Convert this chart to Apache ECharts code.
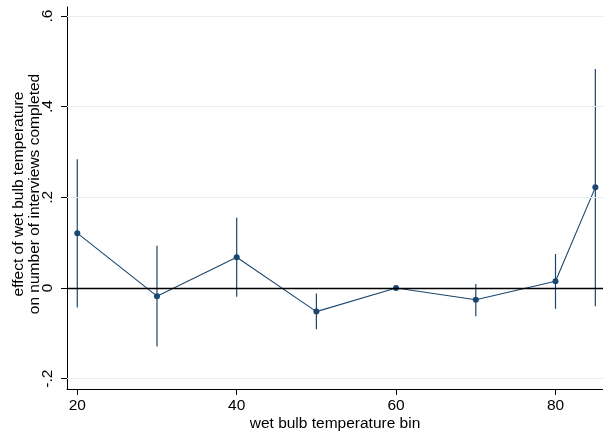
<!DOCTYPE html>
<html>
<head>
<meta charset="utf-8">
<script src="https://cdn.jsdelivr.net/npm/echarts@6/dist/echarts.min.js"></script>
<style>
html,body{margin:0;padding:0;background:#fff;}
#c{width:603px;height:431px;}
</style>
</head>
<body>
<div id="c"></div>
<script>
// Data
var bins = [20, 30, 40, 50, 60, 70, 80, 85];
var effect = [0.121, -0.018, 0.068, -0.052, 0.0, -0.026, 0.015, 0.222];
var ciLow = [-0.043, -0.129, -0.019, -0.091, null, -0.062, -0.046, -0.040];
var ciHigh = [0.284, 0.093, 0.155, -0.012, null, 0.009, 0.075, 0.483];
var xTicks = [20, 40, 60, 80];
var yTicks = [-0.2, 0, 0.2, 0.4, 0.6];
var xTitle = 'wet bulb temperature bin';
var yTitle = 'effect of wet bulb temperature\non number of interviews completed';

var navy = '#1a476f';
var font = 'Liberation Sans, Arial, sans-serif';
var fs = 15.5;

var pointData = bins.map(function (b, i) { return [b, effect[i]]; });
var ciData = [];
bins.forEach(function (b, i) {
  if (ciLow[i] !== null && ciHigh[i] !== null) ciData.push([b, ciLow[i], ciHigh[i]]);
});
var gridLines = yTicks.filter(function (v) { return v !== 0; }).map(function (v) { return { yAxis: v }; });

function yFmt(v) {
  if (Math.abs(v) < 1e-9) return '0';
  var s = String(Math.round(v * 10) / 10);
  return s.replace('0.', '.');
}

var chart = echarts.init(document.getElementById('c'), null, { renderer: 'canvas' });
chart.setOption({
  animation: false,
  backgroundColor: '#ffffff',
  grid: { left: 67, right: 0, top: 7, bottom: 42, containLabel: false, outerBoundsMode: 'none' },
  xAxis: {
    type: 'value',
    min: 18.71,
    max: 85.96,
    name: xTitle,
    nameLocation: 'middle',
    nameGap: 27,
    nameMoveOverlap: false,
    nameTextStyle: { fontFamily: font, fontSize: fs, color: '#000' },
    axisLine: { show: true, onZero: false, lineStyle: { color: '#000', width: 1 } },
    axisTick: { show: true, length: 6, customValues: xTicks, lineStyle: { color: '#000' } },
    axisLabel: { show: true, customValues: xTicks, margin: 9, fontFamily: font, fontSize: fs, color: '#000',
      formatter: function (v) { return String(v); } },
    splitLine: { show: false }
  },
  yAxis: {
    type: 'value',
    min: -0.2227,
    max: 0.6198,
    name: yTitle,
    nameLocation: 'middle',
    nameGap: 24,
    nameMoveOverlap: false,
    nameRotate: 90,
    nameTextStyle: { fontFamily: font, fontSize: fs, color: '#000', lineHeight: 16, padding: [0, 0, 0, 8] },
    axisLine: { show: true, onZero: false, lineStyle: { color: '#000', width: 1 } },
    axisTick: { show: true, length: 6, customValues: yTicks, lineStyle: { color: '#000' } },
    axisLabel: { show: true, customValues: yTicks, rotate: 90, margin: 11, align: 'center', verticalAlign: 'bottom',
      fontFamily: font, fontSize: fs, color: '#000', formatter: yFmt },
    splitLine: { show: false }
  },
  series: [
    {
      type: 'line',
      data: [],
      z: 1,
      silent: true,
      markLine: {
        silent: true,
        symbol: 'none',
        label: { show: false },
        lineStyle: { color: '#e6eef0', width: 1, type: 'solid' },
        data: gridLines
      }
    },
    {
      type: 'line',
      data: [],
      z: 2,
      silent: true,
      markLine: {
        silent: true,
        symbol: 'none',
        label: { show: false },
        lineStyle: { color: '#000', width: 1.4, type: 'solid' },
        data: [{ yAxis: 0 }]
      }
    },
    {
      type: 'custom',
      z: 3,
      data: ciData,
      renderItem: function (params, api) {
        var p1 = api.coord([api.value(0), api.value(1)]);
        var p2 = api.coord([api.value(0), api.value(2)]);
        return {
          type: 'line',
          shape: { x1: p1[0], y1: p1[1], x2: p2[0], y2: p2[1] },
          style: { stroke: navy, lineWidth: 1.2 }
        };
      }
    },
    {
      type: 'line',
      z: 4,
      data: pointData,
      symbol: 'circle',
      symbolSize: 6,
      showSymbol: true,
      lineStyle: { color: navy, width: 1.1 },
      itemStyle: { color: navy }
    }
  ]
});
</script>
</body>
</html>
